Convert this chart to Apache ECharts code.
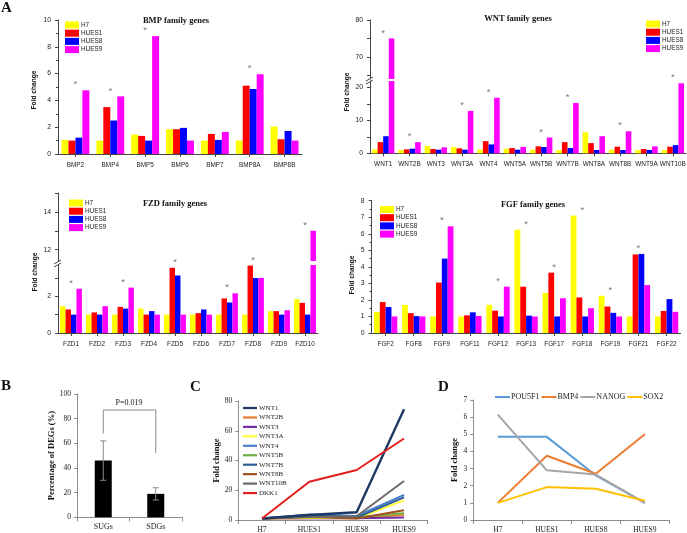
<!DOCTYPE html>
<html><head><meta charset="utf-8">
<script src="https://cdn.jsdelivr.net/npm/echarts@6/dist/echarts.min.js"></script>
<style>html,body{margin:0;padding:0;background:#fff}#c{width:687px;height:533px}</style>
</head><body><div id="c"></div>
<script>
// ---------- Panel A data ----------
const seriesNames = ['H7', 'HUES1', 'HUES8', 'HUES9'];

const bmpGenes = ['BMP2', 'BMP4', 'BMP5', 'BMP6', 'BMP7', 'BMP8A', 'BMP8B'];
const bmpH7    = [1.05, 1.0, 1.45, 1.85, 1.0, 1.0, 2.05];
const bmpHUES1 = [1.0, 3.5, 1.35, 1.85, 1.5, 5.1, 1.1];
const bmpHUES8 = [1.22, 2.5, 1.0, 1.95, 1.05, 4.85, 1.72];
const bmpHUES9 = [4.75, 4.3, 8.8, 1.0, 1.65, 5.95, 1.0];
const bmpStar  = [1, 1, 1, 0, 0, 1, 0];

const wntGenes = ['WNT1', 'WNT2B', 'WNT3', 'WNT3A', 'WNT4', 'WNT5A', 'WNT5B', 'WNT7B', 'WNT8A', 'WNT8B', 'WNT9A', 'WNT10B'];
const wntH7    = [1.2, 1.0, 2.2, 1.9, 1.1, 1.4, 1.1, 1.0, 6.4, 1.1, 1.0, 1.0];
const wntHUES1 = [3.4, 1.2, 1.3, 1.5, 3.7, 1.6, 2.1, 3.4, 3.1, 2.0, 1.3, 2.0];
const wntHUES8 = [5.2, 1.4, 1.1, 1.1, 2.7, 1.1, 1.9, 1.6, 1.0, 1.0, 1.0, 2.5];
const wntHUES9 = [75, 3.4, 1.8, 12.9, 16.9, 1.95, 4.8, 15.3, 5.2, 6.7, 2.1, 21.3];
const wntStar  = [1, 1, 0, 1, 1, 0, 1, 1, 0, 1, 0, 1];

const fzdGenes = ['FZD1', 'FZD2', 'FZD3', 'FZD4', 'FZD5', 'FZD6', 'FZD7', 'FZD8', 'FZD9', 'FZD10'];
const fzdH7    = [1.46, 1.0, 1.0, 1.33, 1.0, 1.0, 1.0, 1.0, 1.19, 1.84];
const fzdHUES1 = [1.28, 1.12, 1.42, 1.0, 3.55, 1.08, 1.88, 3.67, 1.19, 1.64];
const fzdHUES8 = [1.0, 1.0, 1.33, 1.19, 3.13, 1.28, 1.66, 2.99, 1.0, 1.0];
const fzdHUES9 = [2.41, 1.46, 2.47, 1.0, 1.0, 1.0, 2.16, 3.0, 1.24, 13.0];
const fzdStar  = [1, 0, 1, 0, 1, 0, 1, 1, 0, 1];

const fgfGenes = ['FGF2', 'FGF8', 'FGF9', 'FGF11', 'FGF12', 'FGF13', 'FGF17', 'FGF18', 'FGF19', 'FGF21', 'FGF22'];
const fgfH7    = [1.27, 1.7, 1.0, 1.0, 1.7, 6.25, 2.42, 7.1, 2.25, 1.0, 1.0];
const fgfHUES1 = [1.87, 1.2, 3.05, 1.07, 1.35, 2.8, 3.65, 2.15, 1.6, 4.75, 1.33];
const fgfHUES8 = [1.57, 1.02, 4.5, 1.25, 1.0, 1.05, 1.0, 1.0, 1.22, 4.78, 2.05];
const fgfHUES9 = [1.0, 1.0, 6.45, 1.03, 2.8, 1.0, 2.1, 1.5, 1.0, 2.9, 1.28];
const fgfStar  = [0, 0, 1, 0, 1, 1, 1, 1, 1, 1, 0];

// ---------- Panel B data ----------
const bCats = ['SUGs', 'SDGs'];
const bVals = [46, 19];
const bErr  = [16, 5];
const bBracket = [[0, 68], [0, 87], [1, 87], [1, 52]];
const bPText = 'P=0.019';

// ---------- Panel C data ----------
const lineCats = ['H7', 'HUES1', 'HUES8', 'HUES9'];
const cNames = ['WNT1', 'WNT2B', 'WNT3', 'WNT3A', 'WNT4', 'WNT5B', 'WNT7B', 'WNT8B', 'WNT10B', 'DKK1'];
const cWNT1   = [1, 3.4, 5.2, 74.5];
const cWNT2B  = [1, 1.2, 1.4, 3.4];
const cWNT3   = [1, 1.3, 1.1, 1.6];
const cWNT3A  = [1, 1.5, 1.1, 13.2];
const cWNT4   = [1, 3.7, 2.7, 16.8];
const cWNT5B  = [1, 2.1, 1.9, 4.6];
const cWNT7B  = [1, 3.4, 1.6, 15.2];
const cWNT8B  = [1, 2.0, 1.0, 6.5];
const cWNT10B = [1, 2.0, 2.5, 26.2];
const cDKK1   = [1, 25.7, 33.6, 54.8];

// ---------- Panel D data ----------
const dNames = ['POU5F1', 'BMP4', 'NANOG', 'SOX2'];
const dPOU5F1 = [4.85, 4.85, 2.6, 1.0];
const dBMP4   = [1.0, 3.75, 2.7, 5.0];
const dNANOG  = [6.15, 2.9, 2.65, 1.0];
const dSOX2   = [1.0, 1.92, 1.82, 1.12];

// ---------- styling ----------
const barColors = ['#FFFF00', '#FF0000', '#0000FF', '#FF00FF'];
const cColors = ['#1F3864', '#ED7D31', '#7030A0', '#FFFF33', '#4A7FD0', '#70AD47', '#2E5F8F', '#A0521E', '#6B6B6B', '#E41E1E'];
const dColors = ['#5B9BD5', '#ED7D31', '#A5A5A5', '#FFC000'];
const SANS = 'Liberation Sans';
const NARROW = '"Liberation Sans Narrow", "Arial Narrow", "Liberation Sans"';
const SERIF = 'Liberation Serif';
const AX = '#444';
const AX2 = '#8c8c8c';

const grids = [
  {left: 58, top: 20, width: 244, height: 134},          // 0 BMP
  {left: 370, top: 20, width: 316, height: 59},          // 1 WNT upper
  {left: 370, top: 81, width: 316, height: 72.3},        // 2 WNT lower
  {left: 58, top: 193, width: 260, height: 68},          // 3 FZD upper
  {left: 58, top: 265, width: 260, height: 68},          // 4 FZD lower
  {left: 371.6, top: 200.7, width: 309, height: 132.3},  // 5 FGF
  {left: 77, top: 394, width: 105, height: 123.3},       // 6 B
  {left: 238.3, top: 401, width: 189.4, height: 119},    // 7 C
  {left: 473.3, top: 400, width: 196, height: 120}       // 8 D
].map(g => Object.assign({outerBoundsMode: 'none', containLabel: false}, g));

function catAxisA(gi, data, show) {
  return {type: 'category', gridIndex: gi, data: data, show: show !== false,
    axisLine: {show: true, lineStyle: {color: AX, width: 1}},
    axisTick: {show: true, alignWithLabel: true, length: 3, lineStyle: {color: AX}},
    axisLabel: {interval: 0, fontSize: 6.4, color: '#222', margin: 8, fontFamily: SANS},
    splitLine: {show: false}};
}
function valAxisA(gi, min, max, opts) {
  const a = {type: 'value', gridIndex: gi, min: min, max: max,
    axisLine: {show: true, lineStyle: {color: AX, width: 1}},
    axisTick: {show: true, length: 3, lineStyle: {color: AX}},
    axisLabel: {fontSize: 6.8, color: '#222', margin: 7, fontFamily: SANS},
    splitLine: {show: false}};
  if (opts.interval) { a.interval = opts.interval; a.minorTick = {show: true, splitNumber: 2, length: 2, lineStyle: {color: AX}}; }
  if (opts.ticks) { a.axisTick.customValues = opts.ticks; a.axisLabel.customValues = opts.labels; }
  return a;
}

const xAxes = [
  catAxisA(0, bmpGenes),
  catAxisA(1, wntGenes, false),
  catAxisA(2, wntGenes),
  catAxisA(3, fzdGenes, false),
  catAxisA(4, fzdGenes),
  catAxisA(5, fgfGenes),
  {type: 'category', gridIndex: 6, data: bCats,
    axisLine: {show: true, lineStyle: {color: AX2}}, axisTick: {show: true, length: 4, lineStyle: {color: AX2}},
    axisLabel: {fontSize: 8, color: '#222', margin: 6, fontFamily: SERIF}},
  {type: 'category', gridIndex: 7, data: lineCats,
    axisLine: {show: true, lineStyle: {color: AX2}}, axisTick: {show: true, length: 4, lineStyle: {color: AX2}},
    axisLabel: {fontSize: 7.5, color: '#222', margin: 6, fontFamily: SERIF}},
  {type: 'category', gridIndex: 8, data: lineCats,
    axisLine: {show: true, lineStyle: {color: AX2}}, axisTick: {show: true, length: 4, lineStyle: {color: AX2}},
    axisLabel: {fontSize: 7.5, color: '#222', margin: 6, fontFamily: SERIF}}
];

function valAxisLower(gi, min, max, interval, name, gap) {
  return {type: 'value', gridIndex: gi, min: min, max: max, interval: interval,
    axisLine: {show: true, lineStyle: {color: AX2}}, axisTick: {show: true, length: 3, lineStyle: {color: AX2}},
    axisLabel: {fontSize: 7.5, color: '#222', margin: 6, fontFamily: SERIF},
    splitLine: {show: false},
    name: name, nameLocation: 'middle', nameGap: gap, nameRotate: 90,
    nameTextStyle: {fontFamily: SERIF, fontWeight: 'bold', fontSize: 8.5, color: '#111'}};
}

const yAxes = [
  valAxisA(0, 0, 10, {interval: 2}),
  valAxisA(1, 64, 80, {ticks: [65, 70, 75, 80], labels: [70, 80]}),
  valAxisA(2, 0, 22, {ticks: [0, 5, 10, 15, 20], labels: [0, 10, 20]}),
  valAxisA(3, 11.4, 15, {ticks: [12, 13, 14, 15], labels: [12, 14]}),
  valAxisA(4, 0, 3.7, {ticks: [0, 1, 2, 3], labels: [0, 2]}),
  valAxisA(5, 0, 8, {interval: 1}),
  valAxisLower(6, 0, 100, 20, 'Percentage of DEGs (%)', 20),
  valAxisLower(7, 0, 80, 20, 'Fold change', 15),
  valAxisLower(8, 0, 7, 1, 'Fold change', 14)
];

const series = [];
function addBars(gi, genes, groups, stars, gap, lo, hi) {
  groups.forEach((vals, k) => {
    series.push({type: 'bar', name: seriesNames[k], xAxisIndex: gi, yAxisIndex: gi,
      data: vals.map(v => (v > lo ? v : '-')),
      barGap: '0%', barCategoryGap: gap, clip: true,
      itemStyle: {color: barColors[k]}, silent: true});
  });
  const pts = [];
  stars.forEach((s, i) => {
    if (!s) return;
    const m = Math.max(groups[0][i], groups[1][i], groups[2][i], groups[3][i]);
    if (m > lo && m <= hi) pts.push([i, m]);
  });
  series.push({type: 'scatter', xAxisIndex: gi, yAxisIndex: gi, data: pts, symbolSize: 1,
    itemStyle: {color: 'rgba(0,0,0,0)'}, silent: true, z: 5,
    label: {show: true, formatter: '*', position: 'top', distance: 0, fontSize: 9.5, color: '#555', fontFamily: SANS}});
}
const bmpGroups = [bmpH7, bmpHUES1, bmpHUES8, bmpHUES9];
const wntGroups = [wntH7, wntHUES1, wntHUES8, wntHUES9];
const fzdGroups = [fzdH7, fzdHUES1, fzdHUES8, fzdHUES9];
const fgfGroups = [fgfH7, fgfHUES1, fgfHUES8, fgfHUES9];
addBars(0, bmpGenes, bmpGroups, bmpStar, '20%', -1, 1e9);
addBars(1, wntGenes, wntGroups, wntStar, '15%', 64, 1e9);
addBars(2, wntGenes, wntGroups, wntStar, '15%', -1, 64);
addBars(3, fzdGenes, fzdGroups, fzdStar, '16%', 11.4, 1e9);
addBars(4, fzdGenes, fzdGroups, fzdStar, '16%', -1, 11.4);
addBars(5, fgfGenes, fgfGroups, fgfStar, '17%', -1, 1e9);

// Panel B
series.push({type: 'bar', name: 'DEGs', xAxisIndex: 6, yAxisIndex: 6, data: bVals, barWidth: 17,
  itemStyle: {color: '#000'}, silent: true});
series.push({type: 'custom', xAxisIndex: 6, yAxisIndex: 6, z: 10, silent: true,
  data: bVals.map((v, i) => [i, v - bErr[i], v + bErr[i]]),
  encode: {x: 0, y: [1, 2]},
  renderItem: function (params, api) {
    const lo = api.coord([api.value(0), api.value(1)]);
    const hi = api.coord([api.value(0), api.value(2)]);
    const hw = 3;
    const st = {stroke: '#8a8a8a', lineWidth: 1};
    return {type: 'group', children: [
      {type: 'line', shape: {x1: lo[0], y1: lo[1], x2: hi[0], y2: hi[1]}, style: st},
      {type: 'line', shape: {x1: hi[0] - hw, y1: hi[1], x2: hi[0] + hw, y2: hi[1]}, style: st},
      {type: 'line', shape: {x1: lo[0] - hw, y1: lo[1], x2: lo[0] + hw, y2: lo[1]}, style: st}
    ]};
  }});
series.push({type: 'line', xAxisIndex: 6, yAxisIndex: 6, data: bBracket, symbol: 'none', silent: true,
  lineStyle: {color: '#8a8a8a', width: 1}});

// Panel C
const cData = [cWNT1, cWNT2B, cWNT3, cWNT3A, cWNT4, cWNT5B, cWNT7B, cWNT8B, cWNT10B, cDKK1];
cData.forEach((d, i) => {
  series.push({type: 'line', name: cNames[i], xAxisIndex: 7, yAxisIndex: 7, data: d, symbol: 'none',
    lineStyle: {color: cColors[i], width: i === 0 ? 2.4 : 2}, itemStyle: {color: cColors[i]}, silent: true, z: i === 0 || i === 9 ? 4 : 3});
});
// Panel D
const dData = [dPOU5F1, dBMP4, dNANOG, dSOX2];
dData.forEach((d, i) => {
  series.push({type: 'line', name: dNames[i], xAxisIndex: 8, yAxisIndex: 8, data: d, symbol: 'none',
    lineStyle: {color: dColors[i], width: 2}, itemStyle: {color: dColors[i]}, silent: true});
});

function legA(left, top) {
  return {left: left, top: top, orient: 'vertical', data: seriesNames, icon: 'rect',
    itemWidth: 14, itemHeight: 7, itemGap: 1.2, selectedMode: false, padding: 0,
    textStyle: {fontSize: 6.4, lineHeight: 7, color: '#222', fontFamily: NARROW, padding: [0, 0, 0, -3]}};
}
const legends = [
  legA(65, 21.5), legA(646, 20.5), legA(69, 199.5), legA(380, 206),
  {left: 243, top: 404, orient: 'vertical', data: cNames, icon: 'rect', itemWidth: 14, itemHeight: 2.2, itemGap: 1.45,
    selectedMode: false, padding: 0, textStyle: {fontSize: 7, lineHeight: 8, color: '#222', fontFamily: SERIF, padding: [0, 0, 0, -3]}},
  {left: 495, top: 393, orient: 'horizontal', data: dNames, icon: 'rect', itemWidth: 15, itemHeight: 2, itemGap: 2,
    selectedMode: false, padding: 0, textStyle: {fontSize: 8, lineHeight: 8, color: '#222', fontFamily: SERIF, padding: [0, 0, 0, -4]}}
];

function txt(text, x, y, font, align, vAlign, rot) {
  return {type: 'text', x: x, y: y, rotation: rot || 0, silent: true,
    style: {text: text, font: font, fill: '#111', textAlign: align || 'center', textVerticalAlign: vAlign || 'middle'}};
}
const titleFont = 'bold 8.5px "Liberation Serif"';
const letterFont = 'bold 15px "Liberation Serif"';
const fcFont = 'bold 6.6px "Liberation Sans"';
const R = Math.PI / 2;
function brk(x, y) {
  return [
    {type: 'line', silent: true, shape: {x1: x - 4, y1: y + 1, x2: x + 3, y2: y - 3}, style: {stroke: AX, lineWidth: 1}},
    {type: 'line', silent: true, shape: {x1: x - 4, y1: y + 4, x2: x + 3, y2: y}, style: {stroke: AX, lineWidth: 1}}
  ];
}
const graphics = [
  txt('A', 1, 1, letterFont, 'left', 'top'),
  txt('B', 1, 379, letterFont, 'left', 'top'),
  txt('C', 190, 380, letterFont, 'left', 'top'),
  txt('D', 438, 380, letterFont, 'left', 'top'),
  txt('BMP family genes', 176, 21, titleFont),
  txt('WNT family genes', 518, 18.5, titleFont),
  txt('FZD family genes', 175, 203.5, titleFont),
  txt('FGF family genes', 533, 204.5, titleFont),
  txt('Fold change', 34, 90, fcFont, 'center', 'middle', R),
  txt('Fold change', 347.5, 92, fcFont, 'center', 'middle', R),
  txt('Fold change', 35, 272, fcFont, 'center', 'middle', R),
  txt('Fold change', 352.5, 275, fcFont, 'center', 'middle', R),
  txt(bPText, 129, 403, '8px "Liberation Serif"')
].concat(brk(370, 80), brk(58, 263));

const chart = echarts.init(document.getElementById('c'), null, {renderer: 'canvas'});
chart.setOption({
  animation: false,
  backgroundColor: '#fff',
  textStyle: {fontFamily: SANS},
  grid: grids, xAxis: xAxes, yAxis: yAxes, series: series, legend: legends,
  graphic: graphics
});
</script></body></html>
